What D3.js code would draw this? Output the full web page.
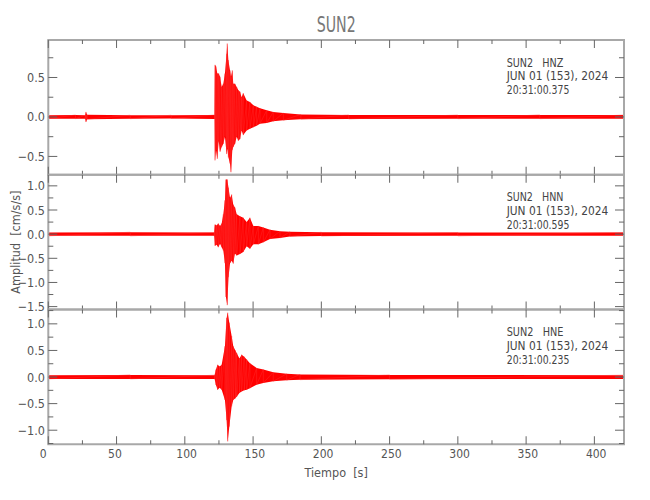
<!DOCTYPE html>
<html><head><meta charset="utf-8">
<script src="https://cdn.jsdelivr.net/npm/d3@7"></script>
<style>body{margin:0;background:#fff}</style>
</head><body>
<svg id="c" width="650" height="500"></svg>
<script>
// ---------- data ----------
const station = "SUN2";
const channels = ["HNZ", "HNN", "HNE"];
const dateLabel = "JUN 01 (153), 2024";
const startTimes = ["20:31:00.375", "20:31:00.595", "20:31:00.235"];
const timeRange = [0, 421.7];
const timeTicks = [0, 50, 100, 150, 200, 250, 300, 350, 400];
const yRanges = [[-0.732, 0.975], [-1.56, 1.23], [-1.264, 1.27]];

// envelopes: [time s, upper, lower]
const hnzEnvelope = [
  [0, 0.022, -0.022], [20, 0.025, -0.022], [27.0, 0.022, -0.022], [27.6, 0.064, -0.064], [28.4, 0.028, -0.028],
  [60, 0.022, -0.022], [90, 0.022, -0.02], [121.8, 0.025, -0.025],
  [122.1, 0.66, -0.55], [122.8, 0.64, -0.42], [123.8, 0.55, -0.53], [124.8, 0.55, -0.30],
  [125.8, 0.51, -0.44], [127.0, 0.38, -0.38], [128.2, 0.42, -0.34], [129.4, 0.55, -0.25],
  [130.6, 0.80, -0.47], [131.1, 0.93, -0.40], [131.9, 0.72, -0.51], [133.1, 0.59, -0.59],
  [133.8, 0.51, -0.70], [134.8, 0.59, -0.42], [135.5, 0.42, -0.38], [136.7, 0.42, -0.34],
  [138.0, 0.38, -0.25], [139.2, 0.34, -0.30], [140.4, 0.32, -0.28], [141.6, 0.25, -0.17],
  [142.8, 0.30, -0.23], [145.3, 0.21, -0.17], [147.7, 0.19, -0.15], [150.2, 0.15, -0.13],
  [152.6, 0.13, -0.11], [155.1, 0.11, -0.085], [160.0, 0.085, -0.076], [164.8, 0.064, -0.055],
  [172.2, 0.05, -0.042], [185, 0.032, -0.028], [220, 0.026, -0.025], [300, 0.024, -0.022],
  [360, 0.026, -0.022], [421.7, 0.024, -0.022]
];
const hnnEnvelope = [
  [0, 0.035, -0.035], [60, 0.04, -0.035], [121.5, 0.035, -0.035],
  [122.1, 0.20, -0.24], [123.3, 0.18, -0.22], [124.5, 0.22, -0.27], [125.8, 0.17, -0.20],
  [127.0, 0.22, -0.27], [128.2, 0.41, -0.34], [129.4, 0.70, -0.60], [130.1, 1.13, -1.30],
  [131.1, 1.13, -1.47], [132.0, 0.96, -0.89], [133.1, 0.75, -0.60], [134.3, 0.82, -0.55],
  [135.5, 0.61, -0.61], [136.7, 0.55, -0.40], [138.0, 0.41, -0.44], [140.4, 0.37, -0.41],
  [142.8, 0.34, -0.37], [145.3, 0.25, -0.25], [147.7, 0.34, -0.30], [150.2, 0.17, -0.21],
  [153.9, 0.17, -0.21], [157.5, 0.14, -0.17], [162.4, 0.09, -0.10], [169.7, 0.06, -0.08],
  [177.0, 0.05, -0.05], [200, 0.04, -0.04], [300, 0.035, -0.035], [421.7, 0.035, -0.035]
];
const hneEnvelope = [
  [0, 0.035, -0.035], [60, 0.04, -0.035], [121.8, 0.035, -0.035],
  [122.8, 0.14, -0.15], [124.0, 0.23, -0.24], [125.5, 0.20, -0.20], [127.0, 0.23, -0.24],
  [129.4, 0.58, -0.43], [130.6, 1.11, -0.81], [131.4, 1.21, -1.21], [132.6, 1.02, -0.93],
  [134.3, 0.77, -0.55], [135.5, 0.58, -0.43], [137.0, 0.50, -0.40], [138.0, 0.45, -0.37],
  [140.0, 0.35, -0.30], [141.6, 0.42, -0.27], [143.5, 0.38, -0.25], [145.3, 0.33, -0.24],
  [147.7, 0.26, -0.21], [152.6, 0.17, -0.145], [157.5, 0.14, -0.11], [164.8, 0.09, -0.08],
  [174.6, 0.06, -0.06], [184.4, 0.05, -0.05], [250, 0.04, -0.04], [421.7, 0.035, -0.035]
];
const envelopes = [hnzEnvelope, hnnEnvelope, hneEnvelope];

// ---------- layout ----------
const svg = d3.select("#c");
const pLeft = 48.3, pRight = 624, pTop = 40, panelH = 134.75;
const font = "'Liberation Sans Narrow','DejaVu Sans Condensed',sans-serif";
const x = d3.scaleLinear().domain(timeRange).range([pLeft, pRight]);
const axisCol = "#a8a8a8", tickCol = "#666", textCol = "#555";

svg.append("text").attr("x", (pLeft + pRight) / 2).attr("y", 31.5)
  .attr("text-anchor", "middle").attr("font-family", font).attr("font-size", 22)
  .attr("fill", "#777").attr("textLength", 39).attr("lengthAdjust", "spacingAndGlyphs").text(station);

envelopes.forEach((env, i) => {
  const y0 = pTop + i * panelH, y1 = y0 + panelH;
  const y = d3.scaleLinear().domain(yRanges[i]).range([y1, y0]);
  const g = svg.append("g");
  const clipId = "clip" + i;
  svg.append("clipPath").attr("id", clipId).append("rect")
    .attr("x", pLeft).attr("y", y0).attr("width", pRight - pLeft).attr("height", panelH);

  const area = d3.area().x(d => x(d[0])).y0(d => y(d[2])).y1(d => y(d[1]));
  g.append("path").datum(env).attr("d", area).attr("fill", "#ff0000")
    .attr("clip-path", `url(#${clipId})`);
  const zig = env.flatMap(d => [[d[0], d[1]], [d[0], d[2]]]);
  g.append("path").datum(zig)
    .attr("d", d3.line().x(d => x(d[0])).y(d => y(d[1])))
    .attr("fill", "none").attr("stroke", "#ff3030").attr("stroke-width", 0.7).attr("stroke-opacity", 0.6)
    .attr("clip-path", `url(#${clipId})`);

  // frame
  g.append("rect").attr("x", pLeft).attr("y", y0).attr("width", pRight - pLeft).attr("height", panelH)
    .attr("fill", "none").attr("stroke", axisCol).attr("stroke-width", 2);

  // x ticks (top & bottom, inward)
  const xMinor = d3.range(25, timeRange[1], 50);
  const tk = g.append("g").attr("stroke", tickCol).attr("stroke-width", 1);
  timeTicks.forEach(t => {
    tk.append("line").attr("x1", x(t)).attr("x2", x(t)).attr("y1", y1).attr("y2", y1 - 8);
    tk.append("line").attr("x1", x(t)).attr("x2", x(t)).attr("y1", y0).attr("y2", y0 + 8);
  });
  xMinor.forEach(t => {
    tk.append("line").attr("x1", x(t)).attr("x2", x(t)).attr("y1", y1).attr("y2", y1 - 4);
    tk.append("line").attr("x1", x(t)).attr("x2", x(t)).attr("y1", y0).attr("y2", y0 + 4);
  });
  // y ticks
  const d = yRanges[i];
  const allY = d3.range(Math.ceil(d[0] / 0.25) * 0.25, d[1], 0.25);
  allY.forEach(v => {
    const major = Math.abs(v / 0.5 - Math.round(v / 0.5)) < 1e-6;
    const len = major ? 9 : 5;
    tk.append("line").attr("x1", pLeft).attr("x2", pLeft + len).attr("y1", y(v)).attr("y2", y(v));
    tk.append("line").attr("x1", pRight).attr("x2", pRight - len).attr("y1", y(v)).attr("y2", y(v));
    if (major) {
      g.append("text").attr("x", 45).attr("y", y(v)).attr("dy", "0.36em")
        .attr("text-anchor", "end").attr("font-family", font).attr("font-size", 12.5)
        .attr("fill", textCol).text(d3.format(".1f")(v));
    }
  });

  // annotation
  const ann = [station + "   " + channels[i], dateLabel, startTimes[i]];
  const lens = [56.7, 101.7, 62.7];
  ann.forEach((s, k) => {
    g.append("text").attr("x", 506.7).attr("y", y0 + 26.6 + k * 13.8)
      .attr("font-family", font).attr("font-size", 12.5).attr("fill", "#444")
      .attr("xml:space", "preserve").style("white-space", "pre")
      .attr("textLength", lens[k]).attr("lengthAdjust", "spacingAndGlyphs").text(s);
  });

  if (i === 2) {
    timeTicks.forEach(t => {
      g.append("text").attr("x", x(t) - 8.5).attr("y", y1 + 13.3)
        .attr("font-family", font).attr("font-size", 12).attr("fill", textCol).text(t);
    });
  }
});

svg.append("text").attr("x", (pLeft + pRight) / 2).attr("y", 477)
  .attr("text-anchor", "middle").attr("font-family", font).attr("font-size", 12.5)
  .attr("fill", textCol).attr("xml:space", "preserve").style("white-space", "pre").text("Tiempo  [s]");
svg.append("text").attr("transform", `translate(19.5,${pTop + 1.5 * panelH}) rotate(-90)`)
  .attr("text-anchor", "middle").attr("font-family", font).attr("font-size", 12.5)
  .attr("fill", textCol).attr("xml:space", "preserve").style("white-space", "pre").text("Amplitud  [cm/s/s]");
</script>
</body></html>
